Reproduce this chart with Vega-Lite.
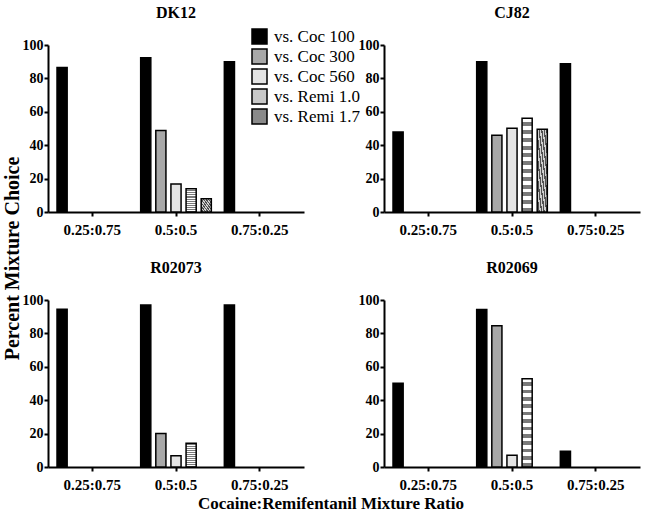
{
  "$schema": "https://vega.github.io/schema/vega-lite/v6.json",
  "padding": {"left": 2, "top": 5, "right": 5, "bottom": 2},
  "background": "white",
  "title": {"text": "Percent Mixture Choice", "orient": "left", "anchor": "middle", "font": "Liberation Serif", "fontSize": 20, "fontWeight": "bold", "color": "black", "offset": -1},
  "data": {"values": [
    {"subject": "DK12", "ratio": "0.25:0.75", "series": "vs. Coc 100", "value": 86.6},
    {"subject": "DK12", "ratio": "0.5:0.5", "series": "vs. Coc 100", "value": 92.4},
    {"subject": "DK12", "ratio": "0.5:0.5", "series": "vs. Coc 300", "value": 48.8},
    {"subject": "DK12", "ratio": "0.5:0.5", "series": "vs. Coc 560", "value": 16.7},
    {"subject": "DK12", "ratio": "0.5:0.5", "series": "vs. Remi 1.0", "value": 13.9},
    {"subject": "DK12", "ratio": "0.5:0.5", "series": "vs. Remi 1.7", "value": 8.0},
    {"subject": "DK12", "ratio": "0.75:0.25", "series": "vs. Coc 100", "value": 90.0},
    {"subject": "CJ82", "ratio": "0.25:0.75", "series": "vs. Coc 100", "value": 47.9},
    {"subject": "CJ82", "ratio": "0.5:0.5", "series": "vs. Coc 100", "value": 90.0},
    {"subject": "CJ82", "ratio": "0.5:0.5", "series": "vs. Coc 300", "value": 45.9},
    {"subject": "CJ82", "ratio": "0.5:0.5", "series": "vs. Coc 560", "value": 50.2},
    {"subject": "CJ82", "ratio": "0.5:0.5", "series": "vs. Remi 1.0", "value": 56.1},
    {"subject": "CJ82", "ratio": "0.5:0.5", "series": "vs. Remi 1.7", "value": 49.6},
    {"subject": "CJ82", "ratio": "0.75:0.25", "series": "vs. Coc 100", "value": 88.8},
    {"subject": "R02073", "ratio": "0.25:0.75", "series": "vs. Coc 100", "value": 94.4},
    {"subject": "R02073", "ratio": "0.5:0.5", "series": "vs. Coc 100", "value": 97.0},
    {"subject": "R02073", "ratio": "0.5:0.5", "series": "vs. Coc 300", "value": 20.0},
    {"subject": "R02073", "ratio": "0.5:0.5", "series": "vs. Coc 560", "value": 6.7},
    {"subject": "R02073", "ratio": "0.5:0.5", "series": "vs. Remi 1.0", "value": 14.2},
    {"subject": "R02073", "ratio": "0.75:0.25", "series": "vs. Coc 100", "value": 97.0},
    {"subject": "R02069", "ratio": "0.25:0.75", "series": "vs. Coc 100", "value": 50.2},
    {"subject": "R02069", "ratio": "0.5:0.5", "series": "vs. Coc 100", "value": 94.3},
    {"subject": "R02069", "ratio": "0.5:0.5", "series": "vs. Coc 300", "value": 84.6},
    {"subject": "R02069", "ratio": "0.5:0.5", "series": "vs. Coc 560", "value": 7.1},
    {"subject": "R02069", "ratio": "0.5:0.5", "series": "vs. Remi 1.0", "value": 52.9},
    {"subject": "R02069", "ratio": "0.75:0.25", "series": "vs. Coc 100", "value": 9.5}
  ]},
  "facet": {
    "field": "subject", "type": "nominal",
    "sort": ["DK12", "CJ82", "R02073", "R02069"],
    "title": "Cocaine:Remifentanil Mixture Ratio",
    "header": {
      "labelFont": "Liberation Serif", "labelFontSize": 16, "labelFontWeight": "bold", "labelColor": "black", "labelPadding": 17,
      "titleFont": "Liberation Serif", "titleFontSize": 17, "titleFontWeight": "bold", "titleColor": "black", "titleOrient": "bottom", "labelOrient": "top", "titlePadding": 4
    }
  },
  "columns": 2,
  "spacing": {"row": 23, "column": 54},
  "resolve": {"axis": {"x": "independent", "y": "independent"}},
  "spec": {
    "width": 256,
    "height": 167,
    "mark": {"type": "bar", "stroke": "black", "strokeWidth": 1.5},
    "encoding": {
      "x": {"field": "ratio", "type": "nominal", "sort": ["0.25:0.75", "0.5:0.5", "0.75:0.25"],
            "scale": {"domain": ["0.25:0.75", "0.5:0.5", "0.75:0.25"], "paddingInner": 0, "paddingOuter": 0.03},
            "axis": {"title": null, "labelAngle": 0, "labelPadding": 6, "labelFontSize": 15}},
      "xOffset": {"field": "series", "type": "nominal",
            "scale": {"domain": ["vs. Coc 100", "vs. Coc 300", "vs. Coc 560", "vs. Remi 1.0", "vs. Remi 1.7"], "paddingInner": 0.33, "paddingOuter": 0.43}},
      "y": {"field": "value", "type": "quantitative",
            "scale": {"domain": [0, 100], "nice": false},
            "axis": {"title": null, "values": [0, 20, 40, 60, 80, 100], "labelPadding": 1, "labelFontSize": 14}},
      "fill": {
            "condition": [
              {"test": "datum.series === 'vs. Remi 1.0'", "value": {"gradient": "linear", "x1": 0, "y1": 0, "x2": 0, "y2": 1, "stops": [
                {"offset": 0, "color": "#ffffff"}, {"offset": 0.0417, "color": "#ffffff"}, {"offset": 0.0417, "color": "#7a7a7a"}, {"offset": 0.0833, "color": "#7a7a7a"},
                {"offset": 0.0833, "color": "#ffffff"}, {"offset": 0.125, "color": "#ffffff"}, {"offset": 0.125, "color": "#7a7a7a"}, {"offset": 0.1667, "color": "#7a7a7a"},
                {"offset": 0.1667, "color": "#ffffff"}, {"offset": 0.2083, "color": "#ffffff"}, {"offset": 0.2083, "color": "#7a7a7a"}, {"offset": 0.25, "color": "#7a7a7a"},
                {"offset": 0.25, "color": "#ffffff"}, {"offset": 0.2917, "color": "#ffffff"}, {"offset": 0.2917, "color": "#7a7a7a"}, {"offset": 0.3333, "color": "#7a7a7a"},
                {"offset": 0.3333, "color": "#ffffff"}, {"offset": 0.375, "color": "#ffffff"}, {"offset": 0.375, "color": "#7a7a7a"}, {"offset": 0.4167, "color": "#7a7a7a"},
                {"offset": 0.4167, "color": "#ffffff"}, {"offset": 0.4583, "color": "#ffffff"}, {"offset": 0.4583, "color": "#7a7a7a"}, {"offset": 0.5, "color": "#7a7a7a"},
                {"offset": 0.5, "color": "#ffffff"}, {"offset": 0.5417, "color": "#ffffff"}, {"offset": 0.5417, "color": "#7a7a7a"}, {"offset": 0.5833, "color": "#7a7a7a"},
                {"offset": 0.5833, "color": "#ffffff"}, {"offset": 0.625, "color": "#ffffff"}, {"offset": 0.625, "color": "#7a7a7a"}, {"offset": 0.6667, "color": "#7a7a7a"},
                {"offset": 0.6667, "color": "#ffffff"}, {"offset": 0.7083, "color": "#ffffff"}, {"offset": 0.7083, "color": "#7a7a7a"}, {"offset": 0.75, "color": "#7a7a7a"},
                {"offset": 0.75, "color": "#ffffff"}, {"offset": 0.7917, "color": "#ffffff"}, {"offset": 0.7917, "color": "#7a7a7a"}, {"offset": 0.8333, "color": "#7a7a7a"},
                {"offset": 0.8333, "color": "#ffffff"}, {"offset": 0.875, "color": "#ffffff"}, {"offset": 0.875, "color": "#7a7a7a"}, {"offset": 0.9167, "color": "#7a7a7a"},
                {"offset": 0.9167, "color": "#ffffff"}, {"offset": 0.9583, "color": "#ffffff"}, {"offset": 0.9583, "color": "#7a7a7a"}, {"offset": 1, "color": "#7a7a7a"}
              ]}},
              {"test": "datum.series === 'vs. Remi 1.7'", "value": {"gradient": "linear", "x1": 0, "y1": 1, "x2": 1, "y2": 0, "stops": [
                {"offset": 0, "color": "#d0d0d0"}, {"offset": 0.0625, "color": "#d0d0d0"}, {"offset": 0.0625, "color": "#505050"}, {"offset": 0.125, "color": "#505050"},
                {"offset": 0.125, "color": "#d0d0d0"}, {"offset": 0.1875, "color": "#d0d0d0"}, {"offset": 0.1875, "color": "#505050"}, {"offset": 0.25, "color": "#505050"},
                {"offset": 0.25, "color": "#d0d0d0"}, {"offset": 0.3125, "color": "#d0d0d0"}, {"offset": 0.3125, "color": "#505050"}, {"offset": 0.375, "color": "#505050"},
                {"offset": 0.375, "color": "#d0d0d0"}, {"offset": 0.4375, "color": "#d0d0d0"}, {"offset": 0.4375, "color": "#505050"}, {"offset": 0.5, "color": "#505050"},
                {"offset": 0.5, "color": "#d0d0d0"}, {"offset": 0.5625, "color": "#d0d0d0"}, {"offset": 0.5625, "color": "#505050"}, {"offset": 0.625, "color": "#505050"},
                {"offset": 0.625, "color": "#d0d0d0"}, {"offset": 0.6875, "color": "#d0d0d0"}, {"offset": 0.6875, "color": "#505050"}, {"offset": 0.75, "color": "#505050"},
                {"offset": 0.75, "color": "#d0d0d0"}, {"offset": 0.8125, "color": "#d0d0d0"}, {"offset": 0.8125, "color": "#505050"}, {"offset": 0.875, "color": "#505050"},
                {"offset": 0.875, "color": "#d0d0d0"}, {"offset": 0.9375, "color": "#d0d0d0"}, {"offset": 0.9375, "color": "#505050"}, {"offset": 1, "color": "#505050"}
              ]}}
            ],
            "field": "series", "type": "nominal",
            "scale": {"domain": ["vs. Coc 100", "vs. Coc 300", "vs. Coc 560", "vs. Remi 1.0", "vs. Remi 1.7"],
                      "range": ["#000000", "#a8a8a8", "#e4e4e4", "#c8c8c8", "#8a8a8a"]},
            "legend": {"title": null, "orient": "none", "legendX": 203, "legendY": -17,
              "encode": {"symbols": {"update": {
                "stroke": {"value": "black"},
                "strokeWidth": {"value": 1.5},
                "opacity": {"value": 1},
                "fill": [
                {"test": "datum.value === 'vs. Remi 1.0' || datum.label === 'vs. Remi 1.0'", "value": {"gradient": "linear", "x1": 0, "y1": 0, "x2": 0, "y2": 1, "stops": [
                  {"offset": 0, "color": "#ffffff"}, {"offset": 0.125, "color": "#ffffff"}, {"offset": 0.125, "color": "#6a6a6a"}, {"offset": 0.25, "color": "#6a6a6a"},
                  {"offset": 0.25, "color": "#ffffff"}, {"offset": 0.375, "color": "#ffffff"}, {"offset": 0.375, "color": "#6a6a6a"}, {"offset": 0.5, "color": "#6a6a6a"},
                  {"offset": 0.5, "color": "#ffffff"}, {"offset": 0.625, "color": "#ffffff"}, {"offset": 0.625, "color": "#6a6a6a"}, {"offset": 0.75, "color": "#6a6a6a"},
                  {"offset": 0.75, "color": "#ffffff"}, {"offset": 0.875, "color": "#ffffff"}, {"offset": 0.875, "color": "#6a6a6a"}, {"offset": 1, "color": "#6a6a6a"}
                ]}},
                {"test": "datum.value === 'vs. Remi 1.7' || datum.label === 'vs. Remi 1.7'", "value": {"gradient": "linear", "x1": 0, "y1": 1, "x2": 1, "y2": 0, "stops": [
                  {"offset": 0, "color": "#d0d0d0"}, {"offset": 0.0625, "color": "#d0d0d0"}, {"offset": 0.0625, "color": "#505050"}, {"offset": 0.125, "color": "#505050"},
                  {"offset": 0.125, "color": "#d0d0d0"}, {"offset": 0.1875, "color": "#d0d0d0"}, {"offset": 0.1875, "color": "#505050"}, {"offset": 0.25, "color": "#505050"},
                  {"offset": 0.25, "color": "#d0d0d0"}, {"offset": 0.3125, "color": "#d0d0d0"}, {"offset": 0.3125, "color": "#505050"}, {"offset": 0.375, "color": "#505050"},
                  {"offset": 0.375, "color": "#d0d0d0"}, {"offset": 0.4375, "color": "#d0d0d0"}, {"offset": 0.4375, "color": "#505050"}, {"offset": 0.5, "color": "#505050"},
                  {"offset": 0.5, "color": "#d0d0d0"}, {"offset": 0.5625, "color": "#d0d0d0"}, {"offset": 0.5625, "color": "#505050"}, {"offset": 0.625, "color": "#505050"},
                  {"offset": 0.625, "color": "#d0d0d0"}, {"offset": 0.6875, "color": "#d0d0d0"}, {"offset": 0.6875, "color": "#505050"}, {"offset": 0.75, "color": "#505050"},
                  {"offset": 0.75, "color": "#d0d0d0"}, {"offset": 0.8125, "color": "#d0d0d0"}, {"offset": 0.8125, "color": "#505050"}, {"offset": 0.875, "color": "#505050"},
                  {"offset": 0.875, "color": "#d0d0d0"}, {"offset": 0.9375, "color": "#d0d0d0"}, {"offset": 0.9375, "color": "#505050"}, {"offset": 1, "color": "#505050"}
                ]}},
                {"scale": "fill", "field": "value"}
              ]}}}}}
    }
  },
  "config": {
    "view": {"stroke": null},
    "axis": {
      "grid": false, "domainColor": "black", "domainWidth": 2, "tickColor": "black", "tickWidth": 2, "tickSize": 4,
      "labelFont": "Liberation Serif", "labelFontWeight": "bold", "labelFontSize": 14, "labelColor": "black"
    },
    "legend": {
      "symbolType": "square", "symbolSize": 225, "symbolStrokeColor": "black", "symbolStrokeWidth": 1.5, "symbolOpacity": 1,
      "labelFont": "Liberation Serif", "labelFontSize": 17, "labelColor": "black", "labelOffset": 6, "rowPadding": -1
    }
  }
}
